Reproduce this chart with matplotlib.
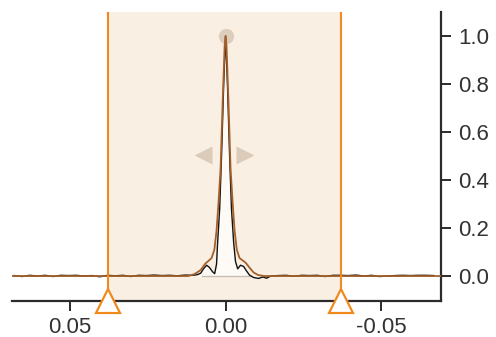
import matplotlib
matplotlib.use("Agg")
import matplotlib.pyplot as plt
import matplotlib.transforms as mtransforms

# ---- data ----
black_x = [0.0680, 0.0655, 0.0630, 0.0605, 0.0580, 0.0555, 0.0530, 0.0505, 0.0480, 0.0455,
           0.0430, 0.0405, 0.0380, 0.0355, 0.0330, 0.0305, 0.0280, 0.0255, 0.0230, 0.0205,
           0.0180, 0.0155, 0.0130, 0.0110,
           0.0100, 0.0090, 0.0080, 0.0071, 0.0061, 0.0052, 0.0042, 0.0035, 0.0029, 0.0026,
           0.0019, 0.0013, 0.0006, 0.0000, -0.0006, -0.0013, -0.0019, -0.0026, -0.0032,
           -0.0039, -0.0048, -0.0058, -0.0068, -0.0077, -0.0090, -0.0106, -0.0120, -0.0132,
           -0.0145, -0.0170, -0.0195, -0.0220, -0.0245, -0.0270, -0.0295, -0.0320, -0.0345,
           -0.0370, -0.0395, -0.0420, -0.0445, -0.0470, -0.0495, -0.0520, -0.0545, -0.0570,
           -0.0595, -0.0620, -0.0645, -0.0670]
black_y = [0.002, -0.002, 0.003, 0.000, 0.003, -0.002, 0.003, 0.002, 0.003, 0.000,
           0.002, -0.003, 0.003, 0.001, 0.003, -0.002, 0.003, 0.002, 0.004, 0.002,
           0.003, 0.001, 0.004, 0.003,
           0.004, 0.006, 0.012, 0.030, 0.045, 0.036, 0.018, 0.010, 0.050, 0.130,
           0.280, 0.500, 0.800, 1.000, 0.800, 0.500, 0.280, 0.140, 0.060,
           0.030, 0.045, 0.040, 0.020, 0.004, -0.006, -0.010, -0.004, -0.009,
           0.000, 0.002, 0.003, -0.001, 0.003, 0.002, 0.003, -0.002, 0.003,
           0.003, 0.002, 0.004, 0.000, 0.003, -0.002, 0.000, 0.002, 0.003,
           0.002, 0.003, 0.003, 0.002]

brown_x = [0.0685, 0.0120, 0.0100, 0.0080, 0.0065, 0.0055, 0.0045, 0.0036, 0.0029, 0.0023,
           0.0016, 0.0010, 0.0003, 0.0000, -0.0003, -0.0010, -0.0016, -0.0023, -0.0029,
           -0.0036, -0.0045, -0.0055, -0.0065, -0.0077, -0.0090, -0.0105, -0.0125, -0.0690]
brown_y = [0.000, 0.000, 0.008, 0.025, 0.052, 0.063, 0.075, 0.110, 0.190, 0.300,
           0.450, 0.700, 0.960, 1.000, 0.960, 0.700, 0.450, 0.300, 0.190,
           0.110, 0.075, 0.065, 0.055, 0.035, 0.015, 0.004, 0.000, 0.000]

range_bounds = [0.0377, -0.0371]
peak_x = [0.0]
peak_y = [1.0]
arrow_x = [0.0074, -0.0061]
arrow_y = [0.505, 0.505]
yticks = [0.0, 0.2, 0.4, 0.6, 0.8, 1.0]
xticks = [0.05, 0.00, -0.05]

orange = '#f08a1c'
shade = '#faefe3'
brown = '#a3602a'
axis_col = '#2b2b2b'
text_col = '#333333'

plt.rcParams['font.family'] = ['Liberation Sans', 'DejaVu Sans']

fig = plt.figure(figsize=(4.96, 3.37), dpi=100)
ax = fig.add_axes([12/496, 1 - 301/337, (441 - 12)/496, (301 - 12)/337])

ax.set_xlim(0.0687, -0.0693)
ax.set_ylim(-0.104, 1.10)

# shaded range
ax.axvspan(range_bounds[0], range_bounds[1], ymin=0.004, ymax=1, color=shade, lw=0, zorder=0)
for b in range_bounds:
    ax.axvline(b, ymin=0.04, ymax=1, color=orange, lw=1.5, zorder=5)

# fill under peak
ax.fill_between(black_x[24:50], black_y[24:50], 0, color='#fefbf7', lw=0, zorder=1)
ax.plot([0.0077, -0.0077], [0, 0], color='#c6bdb4', lw=1.0, zorder=1)

ax.plot(black_x, black_y, color='#111111', lw=1.0, zorder=3)
ax.plot(brown_x, brown_y, color=brown, lw=1.3, zorder=4)

# peak handle and arrows
ax.plot(peak_x, peak_y, 'o', ms=11, color='#d8c8b6', alpha=0.85, mec='none', zorder=2)
ax.plot(arrow_x[:1], arrow_y[:1], '<', ms=13, color='#dccbb9', mec='none', zorder=2)
ax.plot(arrow_x[1:], arrow_y[1:], '>', ms=13, color='#dccbb9', mec='none', zorder=2)

# bottom triangles
trans = mtransforms.blended_transform_factory(ax.transData, ax.transAxes)
for b in range_bounds:
    ax.plot([b], [0.0], '^', ms=17, mfc='white', mec=orange, mew=1.6,
            transform=trans, clip_on=False, zorder=6)

# spines
for s in ['left', 'top']:
    ax.spines[s].set_visible(False)
for s in ['right', 'bottom']:
    ax.spines[s].set_color(axis_col)
    ax.spines[s].set_linewidth(1.6)

ax.yaxis.tick_right()
ax.set_yticks(yticks)
ax.set_yticklabels([f'{v:.1f}' for v in yticks])
ax.set_xticks(xticks)
ax.set_xticklabels([f'{v:.2f}' for v in xticks])
ax.tick_params(axis='both', direction='out', length=7.5, width=1.4, color=axis_col,
               labelsize=16, labelcolor=text_col)
ax.tick_params(axis='x', pad=4)
ax.tick_params(axis='y', pad=5)

fig.savefig('out.png', dpi=100)
